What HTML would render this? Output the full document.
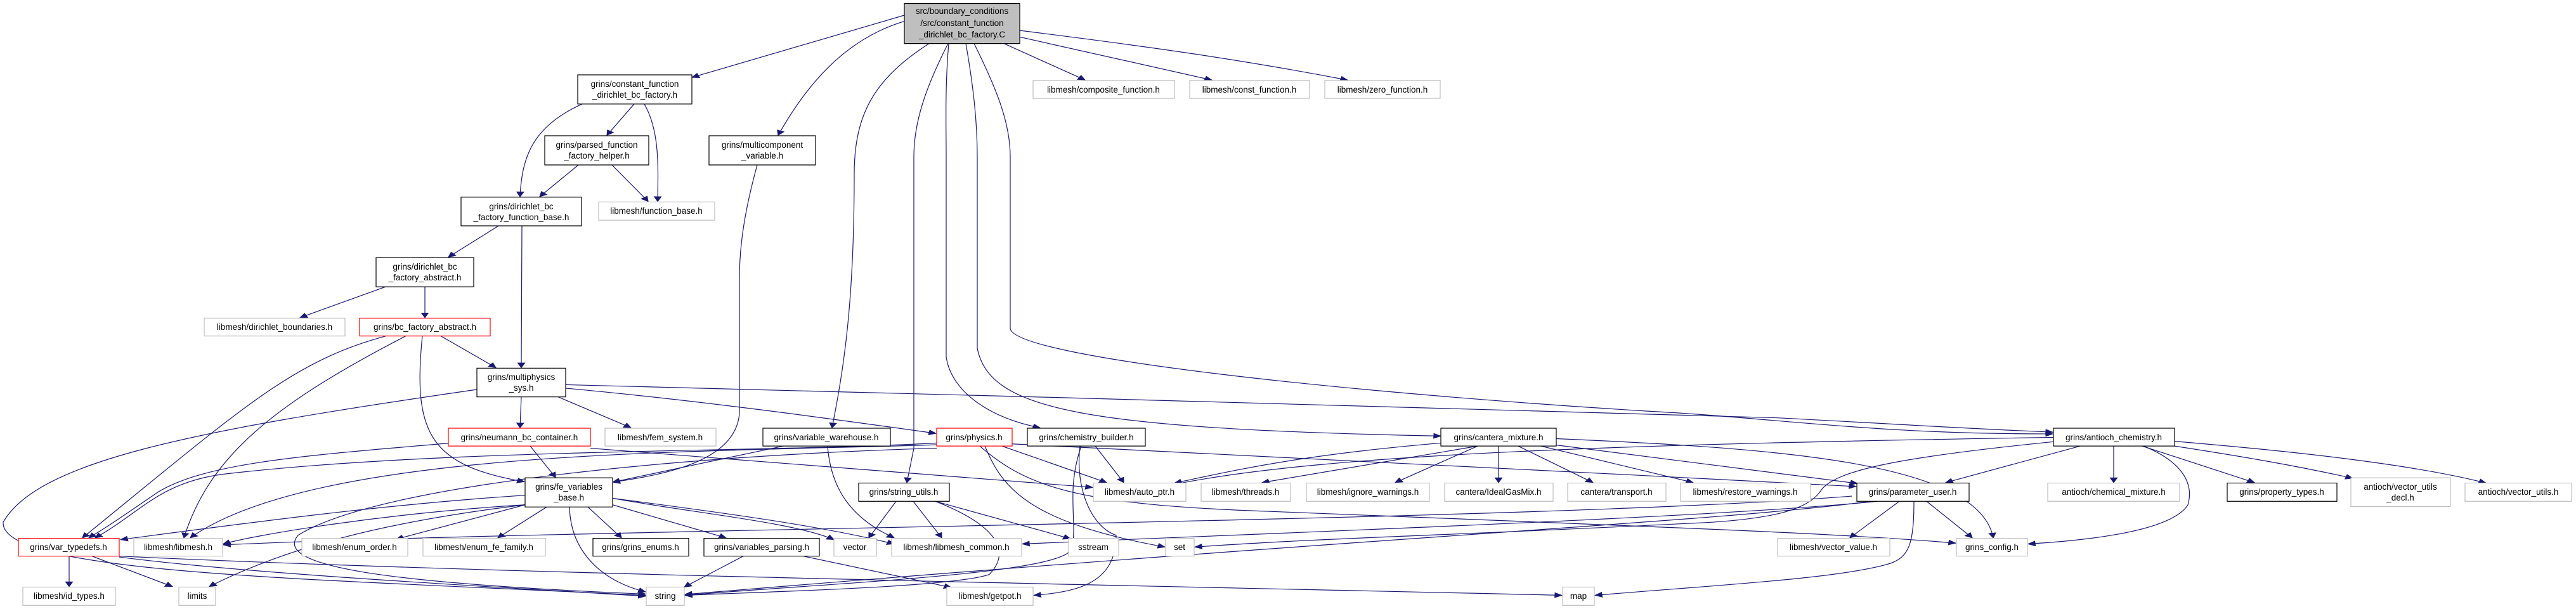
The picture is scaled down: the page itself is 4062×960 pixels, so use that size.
<!DOCTYPE html>
<html><head><meta charset="utf-8"><style>
html,body{margin:0;padding:0;background:#fff;overflow:hidden;}
svg{display:block;}
text{font-family:"Liberation Sans",sans-serif;font-size:13.5px;fill:#000;}
.e{fill:none;stroke:#191970;stroke-width:1.2;marker-end:url(#a);vector-effect:non-scaling-stroke;}
rect{vector-effect:non-scaling-stroke;}
</style></head><body>
<svg width="4062" height="960" viewBox="0 0 4062 960" xmlns="http://www.w3.org/2000/svg">
<defs><marker id="a" viewBox="0 0 10 10" refX="9" refY="5" markerWidth="13" markerHeight="13" markerUnits="userSpaceOnUse" orient="auto"><path d="M0,0 L10,5 L0,10 z" fill="#191970"/></marker></defs>
<g transform="scale(1,0.686)">
<g>
<path class="e" d="M1426,35 L1091,178"/>
<path class="e" d="M1428,48 C1330,90 1270,200 1227,311"/>
<path class="e" d="M1465,100 C1380,180 1347,260 1347,400 C1347,700 1330,850 1312,983"/>
<path class="e" d="M1495,100 C1460,200 1441,280 1441,360 L1441,1030 L1430,1109"/>
<path class="e" d="M1496,100 C1490,200 1492,280 1492,360 L1492,820 C1500,900 1560,960 1640,983"/>
<path class="e" d="M1523,100 C1535,200 1541,280 1541,360 L1541,800 C1560,940 1700,985 2272,1002"/>
<path class="e" d="M1536,100 C1570,200 1593,280 1593,360 L1593,755 C1600,820 2100,900 2600,945 C2800,960 2950,998 3237,997"/>
<path class="e" d="M1583,100 L1711,184"/>
<path class="e" d="M1608,85 L1911,184"/>
<path class="e" d="M1608,70 C1800,105 1950,135 2125,184"/>
<path class="e" d="M1000,239 L957,311"/>
<path class="e" d="M1016,239 C1040,300 1038,380 1037,463"/>
<path class="e" d="M918,239 C840,290 823,360 820,452"/>
<path class="e" d="M912,379 L851,452"/>
<path class="e" d="M965,379 L1022,463"/>
<path class="e" d="M1194,379 C1175,480 1166,560 1166,640 L1166,950 C1160,1060 1050,1090 966,1108"/>
<path class="e" d="M786,519 L707,591"/>
<path class="e" d="M823,519 L822,845"/>
<path class="e" d="M608,659 L473,730"/>
<path class="e" d="M670,659 L670,730"/>
<path class="e" d="M695,772 L782,845"/>
<path class="e" d="M609,772 C460,830 380,940 130,1236"/>
<path class="e" d="M640,772 C430,930 330,1050 290,1236"/>
<path class="e" d="M666,772 C650,1000 680,1070 827,1107"/>
<path class="e" d="M822,912 L820,983"/>
<path class="e" d="M880,912 L995,983"/>
<path class="e" d="M892,892 C1100,920 1300,960 1476,996"/>
<path class="e" d="M892,884 C1500,905 2300,940 2800,960 C3000,975 3100,985 3237,993"/>
<path class="e" d="M752,895 C300,990 60,1060 5,1200 C0,1320 500,1330 1018,1368"/>
<path class="e" d="M836,1025 L876,1097"/>
<path class="e" d="M710,1018 C500,1045 330,1060 250,1130 C200,1180 170,1210 140,1236"/>
<path class="e" d="M931,1030 L1723,1120"/>
<path class="e" d="M1235,1025 L966,1108"/>
<path class="e" d="M1305,1025 C1310,1120 1340,1190 1410,1236"/>
<path class="e" d="M1477,1018 C1200,1040 700,1030 350,1090 C250,1110 220,1180 150,1236"/>
<path class="e" d="M1477,1022 C1100,1040 500,1030 300,1236"/>
<path class="e" d="M1477,1030 C1100,1045 600,1110 470,1230 C430,1300 600,1340 1018,1365"/>
<path class="e" d="M1580,1025 L1745,1109"/>
<path class="e" d="M1596,1020 C2200,1065 2500,1085 2927,1118"/>
<path class="e" d="M1553,1025 C1580,1120 1620,1200 1837,1257"/>
<path class="e" d="M1545,1025 C1620,1120 1700,1160 2000,1175 C2600,1210 2900,1225 3084,1248"/>
<path class="e" d="M1727,1025 L1772,1109"/>
<path class="e" d="M1705,1025 C1680,1130 1700,1200 1690,1260 C1680,1320 1300,1340 1080,1368"/>
<path class="e" d="M1703,1025 C1695,1120 1720,1210 1760,1230 C1760,1340 1700,1360 1630,1368"/>
<path class="e" d="M2280,1017 C2050,1045 1950,1080 1852,1110"/>
<path class="e" d="M2330,1025 L1990,1109"/>
<path class="e" d="M2330,1025 L2200,1109"/>
<path class="e" d="M2363,1025 L2363,1109"/>
<path class="e" d="M2394,1025 L2512,1109"/>
<path class="e" d="M2430,1025 L2670,1109"/>
<path class="e" d="M2440,1020 L2929,1111"/>
<path class="e" d="M2454,1008 C2800,1030 3120,1060 3143,1236"/>
<path class="e" d="M3238,1005 C2600,1020 2100,1040 1852,1113"/>
<path class="e" d="M3280,1025 L3068,1109"/>
<path class="e" d="M3333,1025 L3333,1109"/>
<path class="e" d="M3378,1025 L3555,1109"/>
<path class="e" d="M3429,1025 C3540,1050 3620,1070 3710,1099"/>
<path class="e" d="M3429,1014 C3600,1035 3800,1065 3920,1110"/>
<path class="e" d="M3380,1025 C3440,1060 3460,1110 3450,1160 C3420,1230 3250,1245 3198,1250"/>
<path class="e" d="M3238,1015 C3000,1050 2890,1080 2870,1130 C2850,1170 2800,1190 2700,1200 C2300,1230 2100,1235 1884,1257"/>
<path class="e" d="M2995,1152 L2917,1236"/>
<path class="e" d="M3038,1152 L3110,1236"/>
<path class="e" d="M3018,1152 C3018,1250 3010,1280 2980,1295 C2900,1330 2700,1345 2515,1368"/>
<path class="e" d="M2960,1152 C2700,1190 2000,1225 1612,1250"/>
<path class="e" d="M2950,1152 C2700,1200 2200,1230 1080,1366"/>
<path class="e" d="M1413,1152 L1370,1236"/>
<path class="e" d="M1440,1152 L1485,1236"/>
<path class="e" d="M1475,1152 L1688,1238"/>
<path class="e" d="M1475,1152 C1560,1200 1600,1260 1560,1320 C1500,1350 1200,1360 1080,1368"/>
<path class="e" d="M828,1138 C600,1160 400,1200 190,1240"/>
<path class="e" d="M828,1160 C600,1180 400,1230 352,1250"/>
<path class="e" d="M828,1160 L625,1239"/>
<path class="e" d="M862,1165 L785,1236"/>
<path class="e" d="M927,1165 L980,1236"/>
<path class="e" d="M966,1160 L1145,1236"/>
<path class="e" d="M966,1145 C1100,1180 1250,1200 1315,1240"/>
<path class="e" d="M966,1145 C1150,1180 1300,1210 1410,1250"/>
<path class="e" d="M898,1165 C900,1280 960,1340 1018,1360"/>
<path class="e" d="M828,1160 C600,1200 450,1260 330,1348"/>
<path class="e" d="M1172,1278 L1079,1349"/>
<path class="e" d="M1267,1278 L1500,1350"/>
<path class="e" d="M109,1278 L109,1348"/>
<path class="e" d="M145,1278 L272,1348"/>
<path class="e" d="M188,1280 C400,1320 800,1350 1018,1370"/>
<path class="e" d="M188,1278 C800,1320 1800,1345 2463,1368"/>
<path class="e" d="M2920,1140 C2400,1200 900,1215 352,1252"/>
</g>
<rect x="1426" y="8" width="182" height="92" fill="#bfbfbf" stroke="#000" stroke-width="1.2"/>
<g fill="#fff" stroke-width="1.2">
<rect x="911" y="172" width="180" height="67" stroke="#000"/>
<rect x="859" y="312" width="164" height="67" stroke="#000"/>
<rect x="1118" y="312" width="168" height="67" stroke="#000"/>
<rect x="727" y="453" width="190" height="66" stroke="#000"/>
<rect x="944" y="464" width="183" height="42" stroke="#bfbfbf"/>
<rect x="593" y="592" width="154" height="67" stroke="#000"/>
<rect x="322" y="731" width="222" height="41" stroke="#bfbfbf"/>
<rect x="567" y="731" width="206" height="41" stroke="#f00"/>
<rect x="752" y="846" width="140" height="66" stroke="#000"/>
<rect x="707" y="984" width="224" height="41" stroke="#f00"/>
<rect x="954" y="984" width="175" height="41" stroke="#bfbfbf"/>
<rect x="1203" y="984" width="201" height="41" stroke="#000"/>
<rect x="1477" y="984" width="119" height="41" stroke="#f00"/>
<rect x="1620" y="984" width="186" height="41" stroke="#000"/>
<rect x="2272" y="984" width="182" height="41" stroke="#000"/>
<rect x="3238" y="984" width="191" height="41" stroke="#000"/>
<rect x="828" y="1098" width="138" height="67" stroke="#000"/>
<rect x="1354" y="1110" width="143" height="42" stroke="#000"/>
<rect x="1724" y="1110" width="146" height="42" stroke="#bfbfbf"/>
<rect x="1894" y="1110" width="141" height="42" stroke="#bfbfbf"/>
<rect x="2060" y="1110" width="194" height="42" stroke="#bfbfbf"/>
<rect x="2278" y="1110" width="171" height="42" stroke="#bfbfbf"/>
<rect x="2472" y="1110" width="155" height="42" stroke="#bfbfbf"/>
<rect x="2650" y="1110" width="205" height="42" stroke="#bfbfbf"/>
<rect x="2928" y="1110" width="177" height="42" stroke="#000"/>
<rect x="3229" y="1110" width="208" height="42" stroke="#bfbfbf"/>
<rect x="3512" y="1110" width="173" height="42" stroke="#000"/>
<rect x="3707" y="1098" width="157" height="66" stroke="#bfbfbf"/>
<rect x="3887" y="1110" width="168" height="42" stroke="#bfbfbf"/>
<rect x="1629" y="185" width="223" height="41" stroke="#bfbfbf"/>
<rect x="1876" y="185" width="189" height="41" stroke="#bfbfbf"/>
<rect x="2089" y="185" width="182" height="41" stroke="#bfbfbf"/>
<rect x="29" y="1237" width="159" height="41" stroke="#f00"/>
<rect x="211" y="1237" width="140" height="41" stroke="#bfbfbf"/>
<rect x="476" y="1237" width="167" height="41" stroke="#bfbfbf"/>
<rect x="667" y="1237" width="193" height="41" stroke="#bfbfbf"/>
<rect x="935" y="1237" width="151" height="41" stroke="#000"/>
<rect x="1110" y="1237" width="182" height="41" stroke="#000"/>
<rect x="1315" y="1237" width="67" height="41" stroke="#bfbfbf"/>
<rect x="1406" y="1237" width="205" height="41" stroke="#bfbfbf"/>
<rect x="1685" y="1237" width="79" height="41" stroke="#bfbfbf"/>
<rect x="1838" y="1237" width="45" height="41" stroke="#bfbfbf"/>
<rect x="2803" y="1237" width="177" height="41" stroke="#bfbfbf"/>
<rect x="3085" y="1237" width="112" height="41" stroke="#bfbfbf"/>
<rect x="36" y="1349" width="146" height="42" stroke="#bfbfbf"/>
<rect x="282" y="1349" width="58" height="42" stroke="#bfbfbf"/>
<rect x="1019" y="1349" width="60" height="42" stroke="#bfbfbf"/>
<rect x="1493" y="1349" width="136" height="42" stroke="#bfbfbf"/>
<rect x="2464" y="1349" width="50" height="42" stroke="#bfbfbf"/>
</g>
</g>
<g text-anchor="middle">
<text x="1517" y="22">src/boundary_conditions</text>
<text x="1517" y="41">/src/constant_function</text>
<text x="1517" y="59">_dirichlet_bc_factory.C</text>
<text x="1001" y="137">grins/constant_function</text>
<text x="1001" y="154">_dirichlet_bc_factory.h</text>
<text x="941" y="233">grins/parsed_function</text>
<text x="941" y="250">_factory_helper.h</text>
<text x="1202" y="233">grins/multicomponent</text>
<text x="1202" y="250">_variable.h</text>
<text x="822" y="330">grins/dirichlet_bc</text>
<text x="822" y="347">_factory_function_base.h</text>
<text x="1035" y="337">libmesh/function_base.h</text>
<text x="670" y="425">grins/dirichlet_bc</text>
<text x="670" y="442">_factory_abstract.h</text>
<text x="433" y="520">libmesh/dirichlet_boundaries.h</text>
<text x="670" y="520">grins/bc_factory_abstract.h</text>
<text x="822" y="599">grins/multiphysics</text>
<text x="822" y="616">_sys.h</text>
<text x="819" y="694">grins/neumann_bc_container.h</text>
<text x="1041" y="694">libmesh/fem_system.h</text>
<text x="1303" y="694">grins/variable_warehouse.h</text>
<text x="1536" y="694">grins/physics.h</text>
<text x="1713" y="694">grins/chemistry_builder.h</text>
<text x="2363" y="694">grins/cantera_mixture.h</text>
<text x="3333" y="694">grins/antioch_chemistry.h</text>
<text x="897" y="772">grins/fe_variables</text>
<text x="897" y="789">_base.h</text>
<text x="1425" y="780">grins/string_utils.h</text>
<text x="1797" y="780">libmesh/auto_ptr.h</text>
<text x="1964" y="780">libmesh/threads.h</text>
<text x="2157" y="780">libmesh/ignore_warnings.h</text>
<text x="2363" y="780">cantera/IdealGasMix.h</text>
<text x="2549" y="780">cantera/transport.h</text>
<text x="2752" y="780">libmesh/restore_warnings.h</text>
<text x="3016" y="780">grins/parameter_user.h</text>
<text x="3333" y="780">antioch/chemical_mixture.h</text>
<text x="3598" y="780">grins/property_types.h</text>
<text x="3785" y="772">antioch/vector_utils</text>
<text x="3785" y="789">_decl.h</text>
<text x="3971" y="780">antioch/vector_utils.h</text>
<text x="1740" y="146">libmesh/composite_function.h</text>
<text x="1970" y="146">libmesh/const_function.h</text>
<text x="2180" y="146">libmesh/zero_function.h</text>
<text x="108" y="867">grins/var_typedefs.h</text>
<text x="281" y="867">libmesh/libmesh.h</text>
<text x="559" y="867">libmesh/enum_order.h</text>
<text x="763" y="867">libmesh/enum_fe_family.h</text>
<text x="1010" y="867">grins/grins_enums.h</text>
<text x="1201" y="867">grins/variables_parsing.h</text>
<text x="1348" y="867">vector</text>
<text x="1508" y="867">libmesh/libmesh_common.h</text>
<text x="1724" y="867">sstream</text>
<text x="1860" y="867">set</text>
<text x="2891" y="867">libmesh/vector_value.h</text>
<text x="3141" y="867">grins_config.h</text>
<text x="109" y="944">libmesh/id_types.h</text>
<text x="311" y="944">limits</text>
<text x="1049" y="944">string</text>
<text x="1561" y="944">libmesh/getpot.h</text>
<text x="2489" y="944">map</text>
</g>
</svg>
</body></html>
